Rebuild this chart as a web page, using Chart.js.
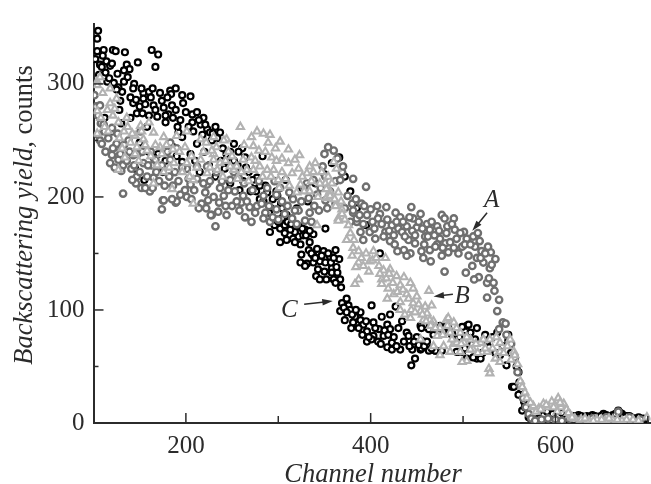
<!DOCTYPE html>
<html>
<head>
<meta charset="utf-8">
<style>
  html, body { margin: 0; padding: 0; background: #fff; overflow: hidden; }
  canvas { display: block; }
</style>
<script src="https://cdn.jsdelivr.net/npm/chart.js@4/dist/chart.umd.min.js"></script>
</head>
<body>
<canvas id="chart" width="657" height="484"></canvas>
<script>
"use strict";
/* values: [channel, counts] */
const seriesA = [
  [101,290],[103,280],[105,272],[107,281],[108,265],[111,264],[112,258],[105,255],[107,250],[109,247],
  [120,261],[124,244],[120,237],[125,247],[121,243],[127,233],[132,228],[141,225],[130,223],[147,218],
  [146,212],[152,208],[158,218],[165,217],[132,203],[161,205],[175,197],[174,189],[189,195],[201,200],
  [194,202],[217,194],[224,197],[221,204],[223,211],[205,211],[228,184],[235,187],[186,210],[143,237],
  [154,230],[167,233],[183,233],[201,225],[212,227],[223,227],[183,248],[190,243],[138,250],[163,228],
  [151,258],[176,197],[190,196],[232,174],[227,184],[244,184],[250,192],[260,195],[269,191],[277,192],
  [264,182],[271,178],[262,201],[253,205],[241,201],[237,208],[248,215],[257,217],[284,201],[286,186],
  [298,189],[307,185],[315,181],[329,179],[334,186],[344,188],[322,188],[316,198],[333,199],[342,202],
  [351,197],[362,194],[381,186],[385,178],[302,208],[298,202],[331,212],[338,215],[351,218],[362,214],
  [369,222],[284,181],[291,178],[354,244],[360,241],[350,238],[364,234],[348,227],[370,227],[381,216],
  [367,215],[395,209],[375,201],[380,194],[390,194],[393,192],[400,189],[417,191],[444,191],[381,188],
  [385,181],[410,185],[408,181],[427,186],[432,182],[454,185],[446,181],[477,184],[490,181],[480,181],
  [461,176],[472,174],[423,175],[430,172],[439,174],[450,173],[464,171],[491,171],[501,169],[482,168],
  [399,169],[389,169],[416,169],[434,169],[459,165],[475,163],[504,163],[518,161],[392,162],[421,161],
  [414,165],[441,162],[448,159],[472,158],[481,159],[513,156],[405,163],[426,158],[429,152],[436,153],
  [443,150],[439,148],[455,152],[464,153],[470,156],[490,155],[484,151],[495,150],[477,148],[506,148],
  [520,152],[530,151],[457,146],[465,143],[515,146],[522,142],[529,137],[510,139],[480,134],[503,133],
  [517,129],[512,127],[526,124],[533,124],[534,117],[526,111],[539,109],[537,99],[543,89],[546,88],
  [539,83],[547,78],[552,70],[556,58],[559,45],[562,33],[565,22],[568,14],[571,8],[574,4],[578,2],
  [585,3],[592,4],[600,3],[607,2],[615,4],[625,3],[640,4],[655,5],[668,10],[680,5],[692,3],
  [113,240],[116,252],[118,230],[123,226],[126,256],[129,238],[133,246],[136,232],[139,240],[142,215],
  [144,228],[148,238],[150,222],[153,240],[156,208],[159,228],[162,240],[164,208],[168,222],[171,214],
  [174,228],[177,210],[180,240],[182,218],[185,198],[188,222],[192,214],[196,226],[199,206],[203,216],
  [206,198],[209,206],[212,216],[214,190],[219,212],[222,190],[226,214],[230,200],[233,222],[236,195],
  [239,214],[243,192],[246,206],[252,222],[255,196],[258,188],[263,212],[266,196],[272,206],[275,186],
  [279,214],[282,194],[288,208],[290,192],[294,182],[296,214],[300,180],[304,196],[310,192],[312,204],
  [318,188],[320,176],[325,196],[328,208],[336,178],[339,192],[346,208],[353,190],[356,205],[372,190],
  [378,178],[384,198],[388,184],[392,176],[396,184],[402,178],[404,172],[407,192],[412,176],[418,180],
  [420,170],[425,166],[428,178],[435,178],[437,165],[442,182],[445,170],[448,166],[452,178],[456,172],
  [458,158],[462,165],[466,178],[469,166],[474,170],[478,155],[483,174],[486,160],[488,176],[493,163],
  [497,168],[499,156],[502,158],[508,158],[511,165],[516,168],[519,146],[524,150],[527,156],[531,140],
  [535,145],[528,128]
];
const seriesB = [
  [104,302],[104,299],[107,306],[118,296],[125,287],[118,283],[104,276],[115,277],[104,256],[127,266],
  [136,270],[151,263],[160,266],[145,254],[154,251],[165,257],[176,253],[190,254],[201,258],[216,251],
  [230,253],[244,251],[127,224],[134,235],[145,238],[140,248],[158,241],[172,244],[176,222],[165,212],
  [185,207],[208,194],[187,230],[201,230],[216,233],[230,238],[237,230],[223,221],[252,224],[208,215],
  [273,224],[288,224],[259,262],[277,258],[271,253],[284,256],[291,255],[289,248],[302,249],[273,245],
  [279,241],[286,240],[297,243],[311,242],[293,235],[304,234],[323,237],[271,235],[311,230],[318,233],
  [262,233],[255,227],[248,227],[266,224],[280,227],[295,224],[304,222],[315,221],[322,225],[334,227],
  [331,221],[338,222],[360,231],[351,212],[363,225],[241,250],[233,244],[228,241],[230,233],[300,215],
  [324,211],[345,212],[334,205],[356,205],[365,204],[352,199],[369,189],[365,181],[342,175],[376,175],
  [363,194],[320,204],[352,207],[356,201],[362,192],[369,185],[365,179],[374,162],[381,155],[387,152],
  [380,148],[387,142],[392,139],[399,143],[403,152],[416,146],[409,139],[421,136],[414,135],[387,127],
  [383,123],[412,127],[428,130],[436,129],[443,124],[412,123],[419,119],[446,119],[432,122],[463,117],
  [425,114],[439,114],[450,112],[418,110],[432,107],[446,106],[466,104],[459,103],[454,99],[432,100],
  [437,96],[461,97],[443,93],[468,90],[482,91],[490,89],[457,91],[475,84],[497,80],[486,80],
  [472,77],[508,74],[519,71],[501,71],[490,70],[479,68],[529,74],[540,71],[551,74],[511,65],
  [497,63],[475,60],[504,55],[528,48],[526,63],[540,63],[555,63],[535,57],[468,68],[454,74],
  [484,93],[464,91],[529,44],[499,54],[493,71],[486,63],[508,65],[522,74],[540,54],[556,60],
  [562,37],[567,27],[576,14],[569,22],[576,15],[582,13],[587,17],[592,14],[596,19],[600,15],
  [603,22],[606,14],[609,17],[612,12],[616,7],[621,4],[628,3],[636,2],[645,3],[654,2],
  [662,3],[672,2],[684,3],[699,5],
  [108,270],[110,292],[112,262],[116,258],[121,272],[123,278],[128,252],[131,243],[133,258],[137,262],
  [142,256],[147,244],[149,232],[152,258],[156,246],[162,236],[167,246],[169,228],[174,238],[179,246],
  [182,226],[186,242],[193,240],[196,222],[199,244],[204,218],[206,236],[212,226],[219,240],[222,248],
  [226,226],[234,224],[240,218],[243,232],[246,240],[250,236],[256,216],[260,222],[263,246],[268,214],
  [275,232],[283,218],[292,218],[298,232],[301,208],[308,216],[312,210],[326,218],[328,205],[336,214],
  [340,230],[343,200],[347,222],[354,218],[358,212],[361,198],[368,196],[372,180],[378,168],[382,162],
  [384,138],[390,146],[395,150],[398,134],[402,144],[406,146],[410,132],[417,128],[420,132],[424,124],
  [429,116],[435,118],[441,110],[444,100],[448,98],[452,105],[456,96],[460,90],[465,86],[470,84],
  [478,78],[483,86],[488,74],[493,84],[498,70],[504,76],[514,70],[516,62],[524,66],[532,66],
  [536,76],[544,62],[548,68],[552,56],[559,52],[564,32],[573,18],[579,10],[584,12],[590,16],
  [598,14],[602,10],[605,18],[614,9],[618,5],[632,4],[641,2],[650,3],[658,4],[667,3],
  [677,3],[690,2]
];
const seriesC = [
  [105,347],[104,340],[104,329],[111,330],[121,330],[124,329],[134,328],[163,330],[170,326],[167,315],
  [107,317],[114,320],[118,316],[109,315],[136,317],[139,313],[133,312],[126,309],[148,319],[115,302],
  [122,301],[127,297],[131,293],[144,300],[143,296],[143,283],[128,277],[154,292],[160,293],[164,296],
  [172,292],[183,294],[189,296],[184,291],[196,290],[205,289],[197,283],[154,287],[165,281],[176,279],
  [185,281],[189,277],[181,273],[147,274],[153,274],[160,272],[169,271],[178,266],[194,268],[207,273],
  [212,275],[219,270],[207,266],[216,264],[223,260],[232,262],[237,257],[226,257],[192,257],[196,253],
  [212,247],[228,250],[252,247],[261,243],[257,240],[245,231],[283,236],[277,217],[288,204],[299,201],
  [112,270],[120,258],[130,265],[140,270],[150,248],[160,240],[170,238],[178,232],[145,225],[155,215],
  [165,235],[175,222],[186,244],[190,236],[196,231],[201,225],[205,238],[210,232],[215,222],[220,240],
  [225,228],[232,218],[238,232],[242,225],[248,212],[255,222],[258,206],[262,214],[265,226],[270,205],
  [275,212],[280,198],[286,210],[292,190],[298,205],[303,194],[308,215],[315,200],[320,190],[326,208],
  [332,196],[340,212],[350,220],[358,230],[366,235],[372,218],[378,205],[385,190],[395,175],[410,150],
  [306,184],[291,169],[351,172],[302,160],[309,162],[316,163],[322,165],[327,166],[338,167],[329,171],
  [318,169],[313,171],[302,172],[307,175],[296,175],[309,184],[304,181],[324,158],[334,160],[333,153],
  [342,154],[349,152],[362,153],[325,149],[338,148],[345,146],[356,147],[366,145],[324,142],[331,141],
  [338,142],[345,143],[351,142],[329,139],[358,137],[358,133],[364,133],[341,130],[345,127],[352,127],
  [360,127],[367,127],[362,124],[368,120],[374,110],[369,106],[376,104],[401,104],[427,103],[421,96],
  [367,99],[378,100],[389,98],[383,94],[412,94],[372,91],[389,91],[381,89],[392,87],[403,89],
  [418,87],[434,90],[379,84],[396,81],[409,83],[421,83],[430,84],[403,77],[414,77],[439,80],
  [396,72],[401,74],[423,71],[418,67],[432,65],[423,65],[441,77],[450,76],[455,73],[445,65],
  [454,65],[463,64],[470,64],[477,64],[448,57],[444,51],[495,63],[515,57],[504,86],[484,84],
  [454,86],[464,86],[473,84],[488,78],[455,84],[463,83],[475,86],[482,86],[499,85],[506,87],
  [515,84],[508,80],[500,77],[488,80],[524,78],[537,80],[549,78],[549,73],[455,66],[470,64],
  [493,63],[499,63],[504,57],[511,58],[519,57],[540,60],[528,67],[510,70],[556,57],[547,51],
  [560,45],[553,32],[562,25],[566,19],[569,15],[555,32],[560,25],[564,11],[571,5],[576,3],
  [584,2],[589,5],[594,9],[600,7],[605,8],[609,3],[612,8],[616,6],[620,6],[625,7],
  [630,5],[634,6],[640,7],[646,5],[652,8],[657,6],[662,7],[668,11],[672,8],[677,6],
  [682,5],[687,4],[692,4],[697,3],
  [102,322],[106,308],[110,325],[113,310],[117,305],[120,318],[125,295],[129,285],[133,302],[137,306],
  [140,288],[146,286],[150,280],[152,296],[156,282],[158,262],[162,288],[167,277],[174,285],[178,272],
  [180,288],[186,270],[191,262],[200,275],[203,262],[208,258],[214,268],[218,255],[221,264],[229,256],
  [234,252],[240,243],[244,238],[248,240],[252,232],[256,228],[264,235],[268,222],[272,215],[276,205],
  [280,210],[284,196],[290,186],[294,198],[298,180],[300,178],[304,190],[307,168],[310,178],[314,176],
  [318,160],[322,174],[326,172],[330,166],[334,170],[336,150],[340,146],[343,136],[347,148],[350,134],
  [354,150],[357,142],[360,146],[363,138],[371,102],[374,98],[380,96],[384,100],[387,84],[391,78],
  [395,90],[398,76],[405,84],[408,72],[411,70],[415,82],[419,78],[425,76],[428,68],[436,72],
  [442,68],[447,72],[452,69],[458,68],[461,72],[466,66],[468,78],[479,80],[491,72],[496,76],
  [502,66],[513,74],[521,62],[526,72],[532,76],[535,62],[543,68],[552,62],[558,50],[561,36],
  [563,30],[567,14],[573,4],[579,3],[582,4],[587,7],[591,10],[597,8],[603,6],[607,9],
  [614,6],[618,5],[623,5],[628,6],[632,5],[637,5],[643,6],[649,6],[655,7],[660,5],
  [665,8],[670,9],[675,5],[680,6],[685,4],[690,5],[695,4]
];

const xTickValues = [200, 300, 400, 500, 600, 700];
const yTickValues = [0, 50, 100, 150, 200, 250, 300];
const xTickLabels = [200, 400, 600];
const yTickLabels = [0, 100, 200, 300];
const xTitle = "Channel number";
const yTitleItalic = "Backscattering yield,";
const yTitlePlain = " counts";
const curveLabels = ["A", "B", "C"];
const labelAt = [[531, 197], [499, 112], [312, 100]];
const arrowFrom = [[526, 186], [489, 114], [328, 105]];
const arrowTo = [[510, 170], [468, 112], [359, 108]];

const INK = "#2b2b2b", SERIF = '"Liberation Serif", "Times New Roman", serif';

/* inward ticks, titles, curve labels and their arrows */
const decorations = {
  id: "decorations",
  afterDraw(c) {
    const g = c.ctx, x = c.scales.x, y = c.scales.y, area = c.chartArea;
    g.save();
    g.strokeStyle = INK;
    g.fillStyle = INK;
    g.lineWidth = 1.5;
    // ticks
    xTickValues.forEach(v => {
      const px = x.getPixelForValue(v), len = xTickLabels.includes(v) ? 10 : 7;
      g.beginPath(); g.moveTo(px, area.bottom); g.lineTo(px, area.bottom - len); g.stroke();
    });
    yTickValues.forEach(v => {
      if (v === 0) return;
      const py = y.getPixelForValue(v), len = yTickLabels.includes(v) ? 10 : 5;
      g.beginPath(); g.moveTo(area.left, py); g.lineTo(area.left + len, py); g.stroke();
    });
    // x title
    g.textBaseline = "alphabetic";
    g.textAlign = "center";
    g.font = "italic 26.5px " + SERIF;
    g.fillText(xTitle, 373, 482);
    // y title, two styles on one line
    g.save();
    g.translate(32, 215);
    g.rotate(-Math.PI / 2);
    g.textAlign = "left";
    g.font = "italic 26.5px " + SERIF;
    const w1 = g.measureText(yTitleItalic).width;
    g.font = "26.5px " + SERIF;
    const w2 = g.measureText(yTitlePlain).width;
    g.font = "italic 26.5px " + SERIF;
    g.fillText(yTitleItalic, -(w1 + w2) / 2, 0);
    g.font = "26.5px " + SERIF;
    g.fillText(yTitlePlain, -(w1 + w2) / 2 + w1, 0);
    g.restore();
    // curve labels
    g.font = "italic 25px " + SERIF;
    g.textBaseline = "middle";
    curveLabels.forEach((s, i) => {
      g.fillText(s, x.getPixelForValue(labelAt[i][0]), y.getPixelForValue(labelAt[i][1]));
      const x0 = x.getPixelForValue(arrowFrom[i][0]), y0 = y.getPixelForValue(arrowFrom[i][1]);
      const x1 = x.getPixelForValue(arrowTo[i][0]), y1 = y.getPixelForValue(arrowTo[i][1]);
      const a = Math.atan2(y1 - y0, x1 - x0);
      g.beginPath(); g.moveTo(x0, y0); g.lineTo(x1 - 6 * Math.cos(a), y1 - 6 * Math.sin(a)); g.stroke();
      g.beginPath();
      g.moveTo(x1, y1);
      g.lineTo(x1 - 11 * Math.cos(a - 0.3), y1 - 11 * Math.sin(a - 0.3));
      g.lineTo(x1 - 11 * Math.cos(a + 0.3), y1 - 11 * Math.sin(a + 0.3));
      g.closePath(); g.fill();
    });
    g.restore();
  }
};

const toPoints = list => list.map(p => ({ x: p[0], y: p[1] }));

new Chart(document.getElementById("chart"), {
  type: "scatter",
  data: { datasets: [
    { label: "A", data: toPoints(seriesA), order: 2, pointStyle: "circle", pointRadius: 3.2,
      borderColor: "#6f6f6f", backgroundColor: "#fff", borderWidth: 2.4 },
    { label: "B", data: toPoints(seriesB), order: 1, pointStyle: "triangle", pointRadius: 4.2,
      borderColor: "#b2b2b2", backgroundColor: "#fff", borderWidth: 2.1 },
    { label: "C", data: toPoints(seriesC), order: 3, pointStyle: "circle", pointRadius: 3,
      borderColor: "#000", backgroundColor: "#fff", borderWidth: 2.2 }
  ] },
  options: {
    responsive: false, animation: false, events: [],
    layout: { padding: { top: 14, right: 1, left: 0, bottom: 0 } },
    plugins: { legend: { display: false }, tooltip: { enabled: false } },
    scales: {
      x: { type: "linear", min: 100, max: 703,
        afterBuildTicks: s => { s.ticks = xTickLabels.map(value => ({ value })); },
        afterFit: s => { s.height = 61; s.paddingRight = 0; },
        grid: { display: false, drawTicks: false },
        border: { color: INK, width: 2 },
        ticks: { padding: 8, color: INK, maxRotation: 0, autoSkip: false,
          font: { family: SERIF, size: 25 } } },
      y: { type: "linear", min: 0, max: 353,
        afterBuildTicks: s => { s.ticks = yTickLabels.map(value => ({ value })); },
        afterFit: s => { s.width = 93.5; },
        grid: { display: false, drawTicks: false },
        border: { color: INK, width: 2 },
        ticks: { padding: 9, color: INK, autoSkip: false,
          font: { family: SERIF, size: 25 } } }
    }
  },
  plugins: [decorations]
});
</script>
</body>
</html>
